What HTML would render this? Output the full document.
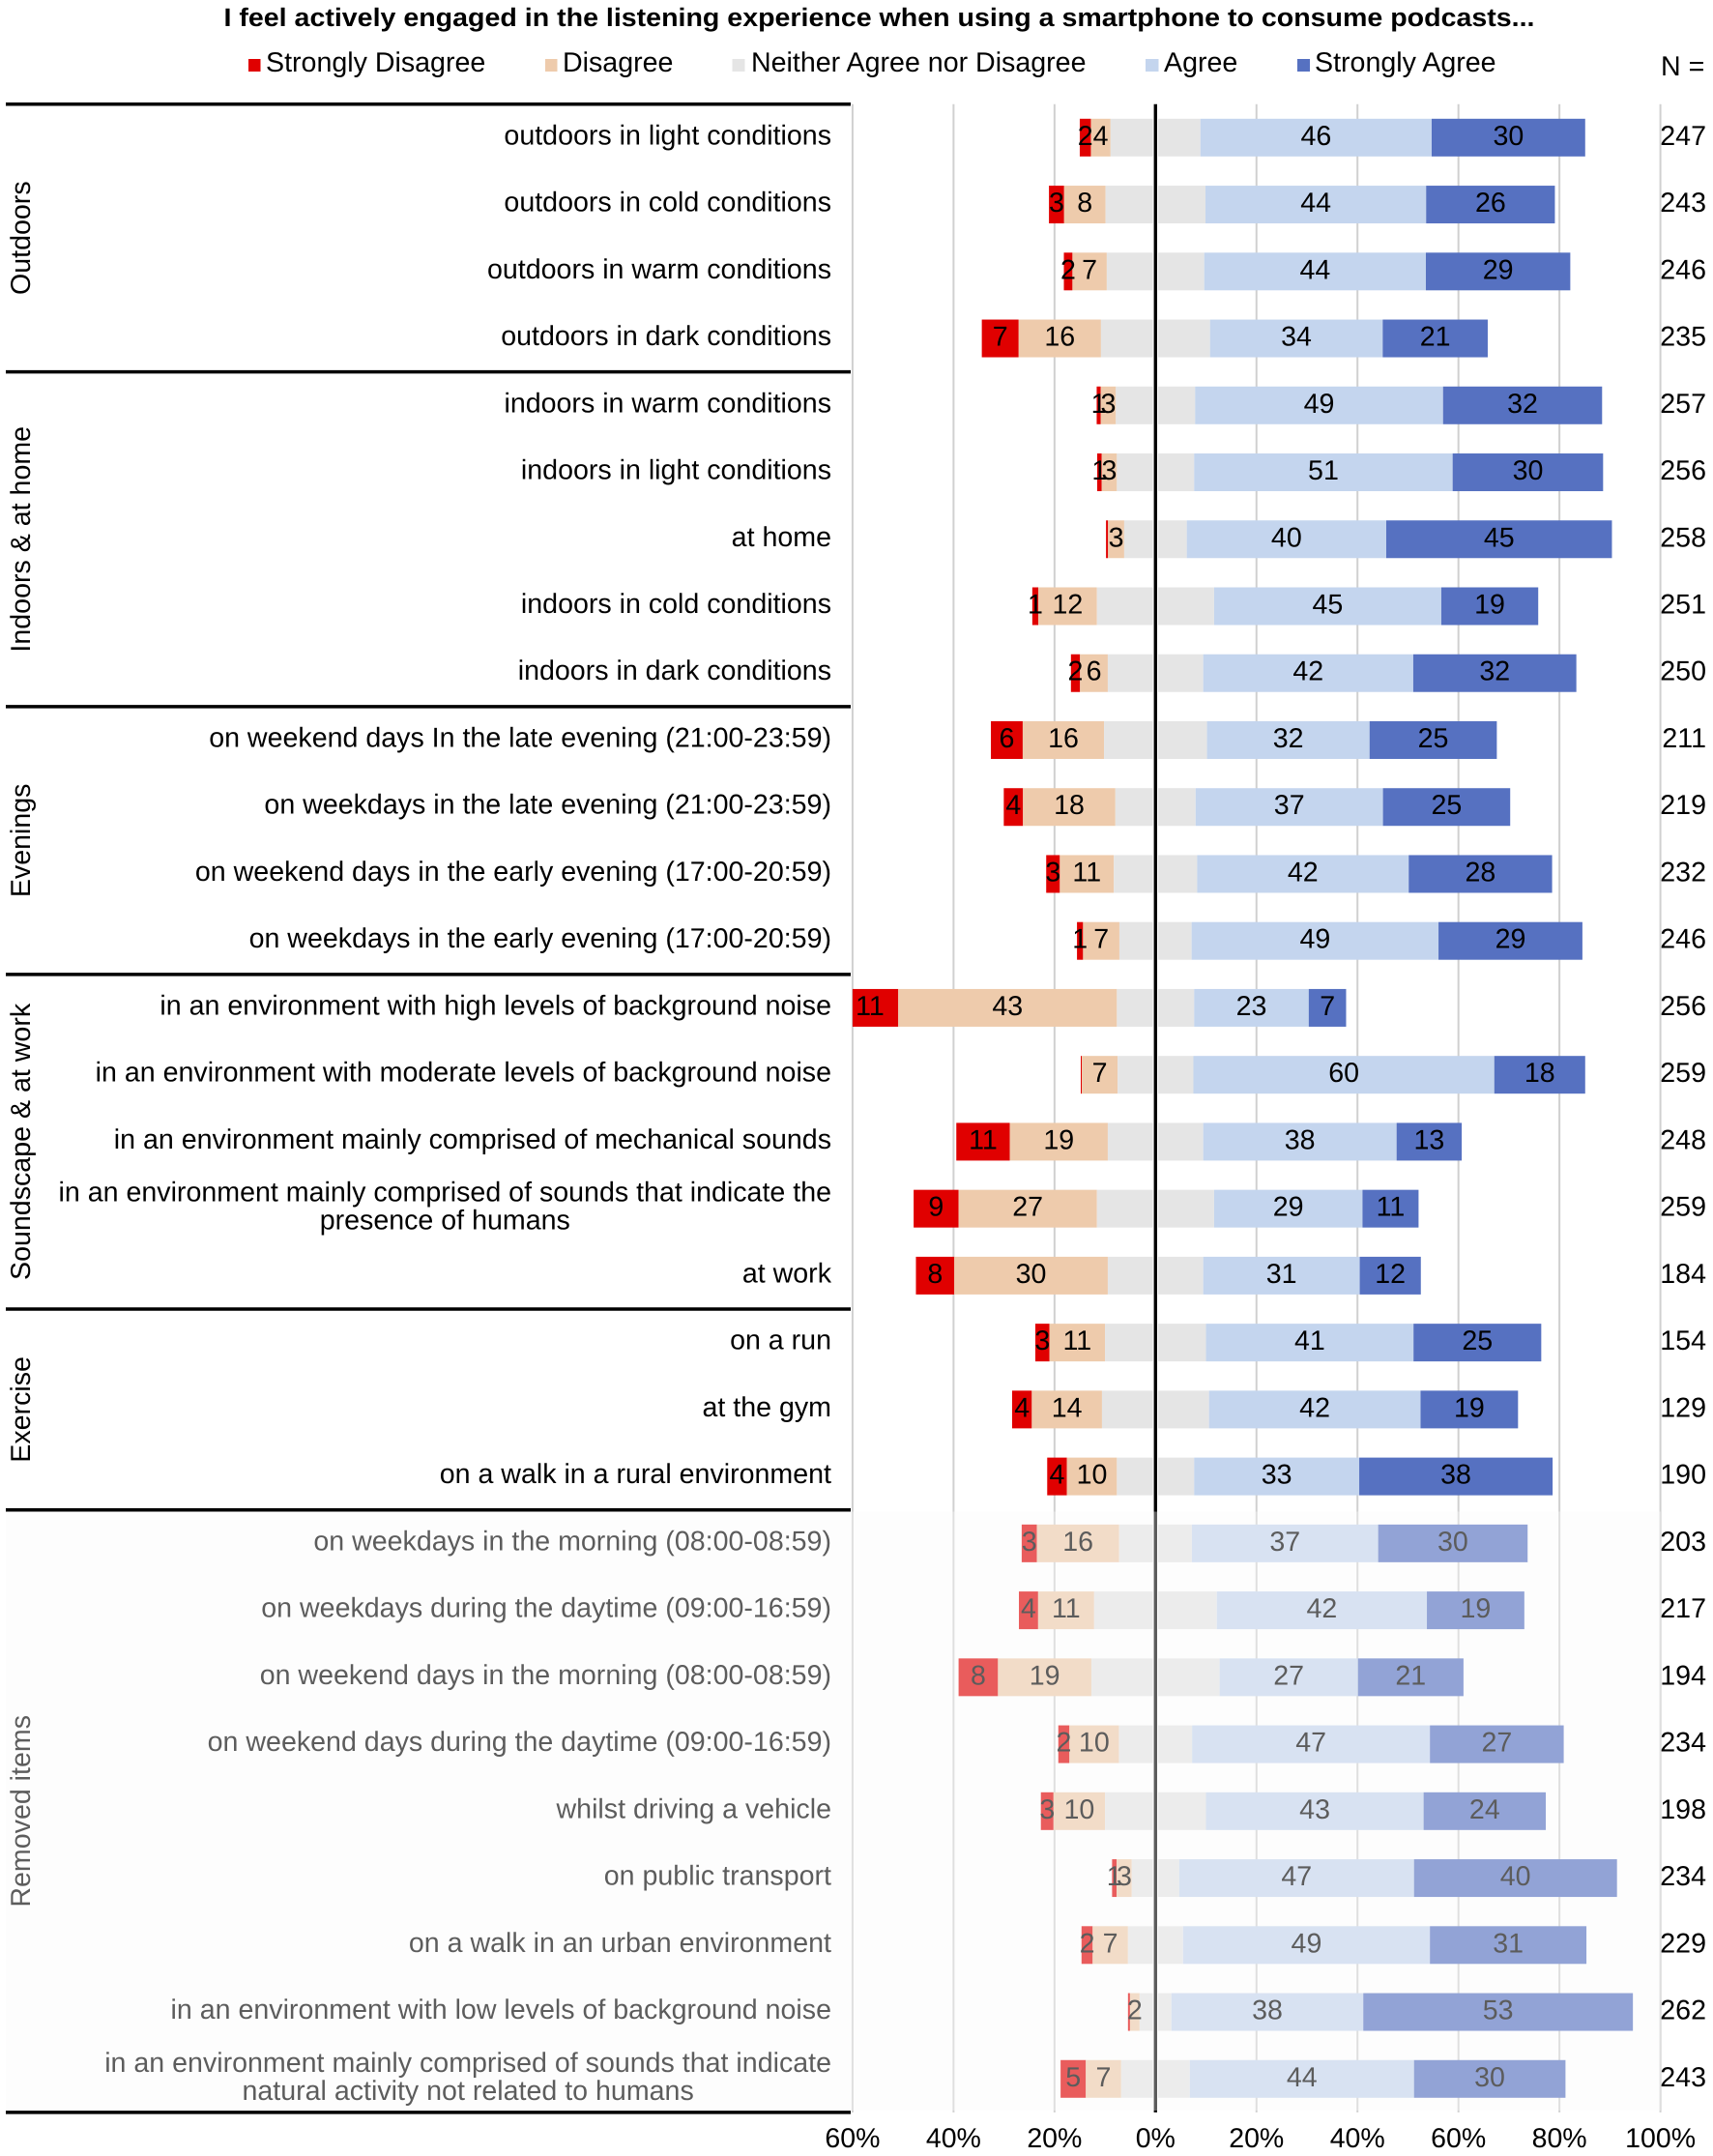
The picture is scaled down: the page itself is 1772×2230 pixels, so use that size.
<!DOCTYPE html>
<html lang="en">
<head>
<meta charset="utf-8">
<title>Listening engagement diverging bar chart</title>
<style>
html,body{margin:0;padding:0;background:#fff;}
svg{display:block;}
text{font-family:"Liberation Sans",Arial,sans-serif;text-rendering:geometricPrecision;fill:#000;font-size:28.6px;}
</style>
</head>
<body>
<svg id="chart" xmlns="http://www.w3.org/2000/svg" width="1772" height="2230" viewBox="0 0 1772 2230">
  <rect x="0" y="0" width="1772" height="2230" fill="#ffffff"/>
  <g id="grid"></g>
  <g id="bars"></g>
  <g id="zero"></g>
  <g id="cats"></g>
  <rect id="removed-overlay" x="6" y="1563.5" width="1712" height="619.5" fill="rgb(250,250,250)" fill-opacity="0.37"/>
  <g id="seps"></g>
  <g id="ns"></g>
  <g id="ticks"></g>
  <text x="231.5" y="27" font-weight="bold" style="font-size:26.5px" textLength="1356" lengthAdjust="spacingAndGlyphs">I feel actively engaged in the listening experience when using a smartphone to consume podcasts...</text>
  <g>
    <rect x="257" y="61" width="12.5" height="13" fill="#e00000"/>
    <text x="275" y="74">Strongly Disagree</text>
    <rect x="564" y="61" width="12.5" height="13" fill="#eecbac"/>
    <text x="582" y="74">Disagree</text>
    <rect x="757.5" y="61" width="13" height="13" fill="#e5e5e5"/>
    <text x="777" y="74">Neither Agree nor Disagree</text>
    <rect x="1185" y="61" width="13.5" height="13" fill="#c4d5ee"/>
    <text x="1204" y="74">Agree</text>
    <rect x="1342" y="61" width="13" height="13" fill="#5671c1"/>
    <text x="1360" y="74">Strongly Agree</text>
    <text x="1718" y="78">N =</text>
  </g>
</svg>
<script>
const categories = [
  ["outdoors in light conditions"],
  ["outdoors in cold conditions"],
  ["outdoors in warm conditions"],
  ["outdoors in dark conditions"],
  ["indoors in warm conditions"],
  ["indoors in light conditions"],
  ["at home"],
  ["indoors in cold conditions"],
  ["indoors in dark conditions"],
  ["on weekend days In the late evening (21:00-23:59)"],
  ["on weekdays in the late evening (21:00-23:59)"],
  ["on weekend days in the early evening (17:00-20:59)"],
  ["on weekdays in the early evening (17:00-20:59)"],
  ["in an environment with high levels of background noise"],
  ["in an environment with moderate levels of background noise"],
  ["in an environment mainly comprised of mechanical sounds"],
  ["in an environment mainly comprised of sounds that indicate the","presence of humans"],
  ["at work"],
  ["on a run"],
  ["at the gym"],
  ["on a walk in a rural environment"],
  ["on weekdays in the morning (08:00-08:59)"],
  ["on weekdays during the daytime (09:00-16:59)"],
  ["on weekend days in the morning (08:00-08:59)"],
  ["on weekend days during the daytime (09:00-16:59)"],
  ["whilst driving a vehicle"],
  ["on public transport"],
  ["on a walk in an urban environment"],
  ["in an environment with low levels of background noise"],
  ["in an environment mainly comprised of sounds that indicate","natural activity not related to humans"]
];
const stronglyDisagree = [2.2,3.0,1.7,7.3,0.8,0.9,0.4,1.2,1.8,6.3,3.8,2.7,1.2,11.2,0.2,10.6,8.9,7.6,2.8,3.9,3.9,3.0,3.8,7.8,2.2,2.5,0.9,2.2,0.4,5.0];
const disagree = [3.9,8.2,6.8,16.3,3.0,3.0,3.2,11.6,5.5,16.1,18.3,10.7,7.2,43.3,7.1,19.4,27.4,30.4,11.0,13.9,9.9,16.3,11.1,18.5,9.8,10.2,3.0,7.0,1.9,7.0];
const neutral = [17.8,19.8,19.3,21.6,15.7,15.3,12.4,23.2,18.9,20.4,15.9,16.5,14.3,15.3,15.0,18.9,23.2,18.9,20.0,21.2,15.3,14.4,24.3,25.4,14.5,20.0,9.4,10.9,6.3,13.6];
const agree = [45.8,43.7,43.9,34.2,49.1,51.2,39.5,45.0,41.6,32.2,37.1,41.9,48.9,22.7,59.6,38.3,29.4,31.0,41.1,41.9,32.7,36.9,41.6,27.4,47.1,43.1,46.5,48.9,38.0,44.4];
const stronglyAgree = [30.4,25.5,28.6,20.8,31.5,29.8,44.7,19.2,32.3,25.2,25.2,28.4,28.5,7.4,18.0,12.9,11.1,12.1,25.3,19.3,38.3,29.6,19.3,20.9,26.5,24.2,40.2,31.0,53.4,30.0];
const sampleSizes = [247,243,246,235,257,256,258,251,250,211,219,232,246,256,259,248,259,184,154,129,190,203,217,194,234,198,234,229,262,243];
const groupNames = ["Outdoors","Indoors & at home","Evenings","Soundscape & at work","Exercise","Removed items"];
const groupCounts = [4,5,4,5,3,9];
const tickValues = [-60,-40,-20,0,20,40,60,80,100];

const SVG_NS = "http://www.w3.org/2000/svg";
const AXIS_MIN = -60, AXIS_MAX = 100;
const ZERO_X = 1195.3, PX_PER_PCT = 5.223;
const TOP_Y = 107.7, ROW_H = 69.24, BAR_H = 39;
function xScale(v){ return ZERO_X + v * PX_PER_PCT; }
function rowTop(i){ return TOP_Y + i * ROW_H; }
function rowCenter(i){ return rowTop(i) + ROW_H / 2; }
function make(tag, attrs, parent){
  const el = document.createElementNS(SVG_NS, tag);
  for (const k in attrs) el.setAttribute(k, attrs[k]);
  parent.appendChild(el);
  return el;
}
function slug(s){ return s.toLowerCase().replace(/[^a-z0-9]+/g,"-").replace(/^-|-$/g,""); }

const gridG = document.getElementById("grid");
const barsG = document.getElementById("bars");
const zeroG = document.getElementById("zero");
const catsG = document.getElementById("cats");
const sepsG = document.getElementById("seps");
const nsG = document.getElementById("ns");
const ticksG = document.getElementById("ticks");
const plotBottom = rowTop(categories.length);

tickValues.forEach(function(t){
  if (t !== 0) {
    const line = make("line", {x1:xScale(t), x2:xScale(t), y1:TOP_Y, y2:plotBottom, stroke:"#d0d0d0", "stroke-width":2}, gridG);
    
    
  }
  const label = make("text", {x:xScale(t), y:2221, "text-anchor":"middle", style:"font-size:28.5px"}, ticksG);
  label.textContent = Math.abs(t) + "%";
  
  
});

const segmentSeries = [
  {key:"strongly-disagree", values:stronglyDisagree, color:"#e00000"},
  {key:"disagree", values:disagree, color:"#eecbac"},
  {key:"neutral", values:neutral, color:"#e5e5e5"},
  {key:"agree", values:agree, color:"#c4d5ee"},
  {key:"strongly-agree", values:stronglyAgree, color:"#5671c1"}
];

categories.forEach(function(lines, i){
  const cy = rowCenter(i);
  const start = -(stronglyDisagree[i] + disagree[i] + neutral[i] / 2);
  let cursor = start;
  const labels = [];
  segmentSeries.forEach(function(s){
    const v = s.values[i];
    const from = cursor, to = cursor + v;
    const clippedFrom = Math.max(from, AXIS_MIN);
    const rect = make("rect", {x:xScale(clippedFrom), y:cy - BAR_H / 2, width:Math.max(0, xScale(to) - xScale(clippedFrom)), height:BAR_H, fill:s.color}, barsG);
    
    
    if (s.key !== "neutral" && Math.round(v) > 0) {
      labels.push({x:xScale((from + to) / 2), text:Math.round(v)});
    }
    cursor = to;
  });
  labels.forEach(function(l){
    const t = make("text", {x:l.x, y:cy + 7.5, "text-anchor":"middle"}, barsG);
    t.textContent = l.text;
    
    
  });

  if (lines.length === 1) {
    const c = make("text", {x:860, y:cy + 7, "text-anchor":"end"}, catsG);
    c.textContent = lines[0];
    
    
  } else {
    const c1 = make("text", {x:860, y:cy - 7.5, "text-anchor":"end"}, catsG);
    c1.textContent = lines[0];
    
    
    const mid = 860 - c1.getComputedTextLength() / 2;
    const c2 = make("text", {x:mid, y:cy + 21.5, "text-anchor":"middle"}, catsG);
    c2.textContent = lines[1];
    
    
  }

  const n = make("text", {x:1765, y:cy + 7.5, "text-anchor":"end"}, nsG);
  n.textContent = sampleSizes[i];
  
  
});

const zeroHalo = make("line", {x1:xScale(0), x2:xScale(0), y1:TOP_Y, y2:plotBottom, stroke:"#ffffff", "stroke-width":5.5}, zeroG);


const zeroLine = make("line", {x1:xScale(0), x2:xScale(0), y1:TOP_Y, y2:plotBottom, stroke:"#000000", "stroke-width":3.4}, zeroG);



function addSeparator(rowIndex){
  const sep = make("line", {x1:6, x2:880, y1:rowTop(rowIndex), y2:rowTop(rowIndex), stroke:"#000000", "stroke-width":3.5}, sepsG);
  
  
}
addSeparator(0);
let rowCursor = 0;
groupNames.forEach(function(name, g){
  const first = rowCursor;
  rowCursor += groupCounts[g];
  addSeparator(rowCursor);
  const midY = (rowTop(first) + rowTop(rowCursor)) / 2;
  const label = make("text", {x:0, y:0, "text-anchor":"middle", transform:"translate(31 " + midY + ") rotate(-90)"}, catsG);
  label.textContent = name;
  
  
});
</script>
</body>
</html>
